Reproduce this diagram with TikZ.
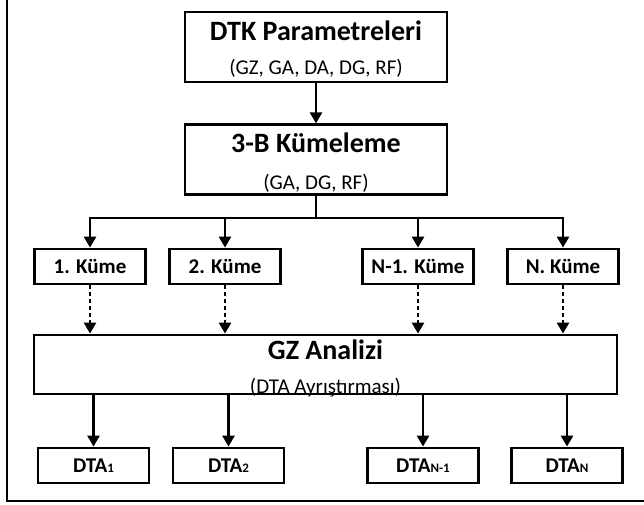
\documentclass[tikz,border=0pt]{standalone}
\usepackage{fontspec}
\setmainfont{Carlito}
\usetikzlibrary{arrows.meta, positioning}

\newcommand{\dtaidx}[1]{{\fontsize{13}{13}\selectfont #1}}

\begin{document}
\begin{tikzpicture}[
    x=1pt, y=1pt,
    >={Triangle[width=12pt,length=11pt]},
    bigbox/.style={draw, line width=2.8pt, minimum width=262pt,
                   minimum height=70pt, inner sep=0pt},
    kbox/.style={draw, line width=2.8pt, minimum width=111pt,
                 minimum height=35pt, inner sep=0pt,
                 font=\fontsize{21}{21}\selectfont\bfseries},
    titletxt/.style={inner sep=0pt, font=\fontsize{28}{28}\selectfont\bfseries},
    subtxt/.style={inner sep=0pt, font=\fontsize{21}{21}\selectfont},
    arr/.style={->, line width=2.6pt},
    dasharr/.style={->, line width=2.6pt, dash pattern=on 4pt off 3pt},
    node distance=40pt
  ]
  \useasboundingbox (0,0) rectangle (644,504);
  \draw[line width=1.8pt] (7,504) -- (7,3) -- (644,3);

  % main chain
  \node[bigbox] (dtk) at (316,457) {};
  \node[titletxt] (dtkt) at ([yshift=16pt]dtk.center) {DTK Parametreleri};
  \node[subtxt] (dtks) at ([yshift=-21pt]dtk.center) {(GZ, GA, DA, DG, RF)};
  \node[bigbox, below=of dtk] (kml) {};
  \node[titletxt] (kmlt) at ([yshift=17pt]kml.center) {3-B Kümeleme};
  \node[subtxt] (kmls) at ([yshift=-23pt]kml.center) {(GA, DG, RF)};

  % clusters
  \node[kbox] (k1) at (90,237.5) {1. Küme};
  \node[kbox] (k2) at (225,237.5) {2. Küme};
  \node[kbox] (k3) at (418,237.5) {N-1. Küme};
  \node[kbox] (k4) at (563,237.5) {N. Küme};

  \node[draw, line width=2.8pt, minimum width=583pt, minimum height=59pt,
        inner sep=0pt] (gz) at (325.5,139.5) {};
  \node[titletxt] (gzt) at ([yshift=14.5pt]gz.center) {GZ Analizi};
  \node[subtxt] (gzs) at ([yshift=-23.5pt]gz.center) {(DTA Ayrıştırması)};

  % outputs
  \node[kbox] (d1) at (93.5,38.5) {DTA\dtaidx{1}};
  \node[kbox] (d2) at (228.5,38.5) {DTA\dtaidx{2}};
  \node[kbox] (d3) at (423,38.5) {DTA\dtaidx{N-1}};
  \node[kbox] (d4) at (567,38.5) {DTA\dtaidx{N}};

  \draw[arr] (dtk) -- (kml);
  \coordinate (split) at (kml.center |- 0,286);
  \draw[line width=2.6pt] (kml.south) -- (split);
  \foreach \k in {k1,k2,k3,k4}
    \draw[arr] (split) -| (\k.north);
  \foreach \k in {k1,k2,k3,k4}
    \draw[dasharr] (\k.south) -- (\k.south |- gz.north);
  \foreach \d in {d1,d2,d3,d4}
    \draw[arr] (\d.north |- gz.south) -- (\d.north);
\end{tikzpicture}
\end{document}
